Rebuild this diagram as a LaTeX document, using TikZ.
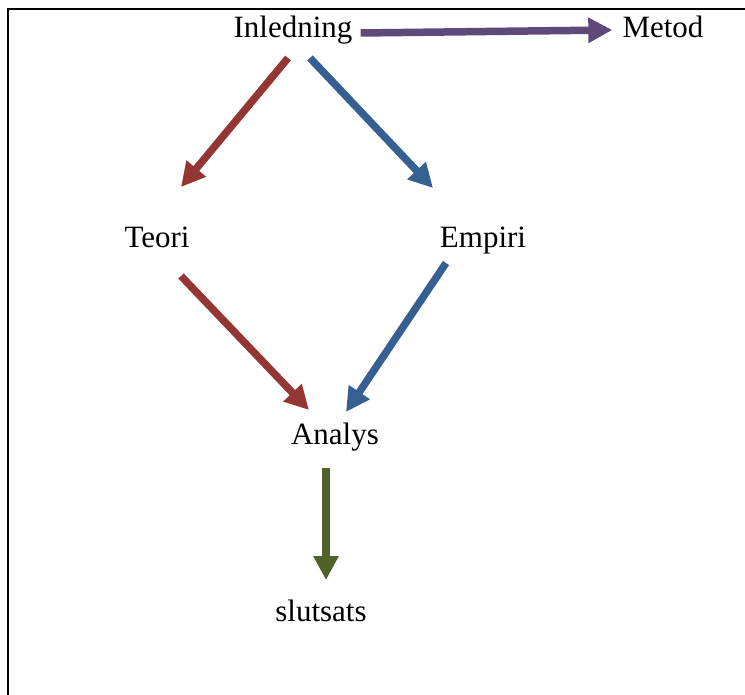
\documentclass[tikz,border=0pt]{standalone}
\usepackage{fontspec}
\setmainfont{Liberation Serif}
\usetikzlibrary{arrows.meta}
\definecolor{teorired}{HTML}{943634}
\definecolor{empiriblue}{HTML}{366092}
\definecolor{metodpurple}{HTML}{5F497A}
\definecolor{slutgreen}{HTML}{4F6228}

\begin{document}
\begin{tikzpicture}[x=1pt, y=-1pt,
  rubrik/.style={anchor=base, inner sep=0pt, font=\fontsize{31}{37}\selectfont},
  pil/.style={line width=7.5pt, -{Triangle[length=24pt, width=24pt]}}]
  \useasboundingbox (0, 0) rectangle (745, 695);
  \draw [line width=2pt] (8, 695) -- (8, 9) -- (745, 9);

  \node [rubrik] (inledning) at (293, 38) {Inledning};
  \node [rubrik] (metod) at (663, 38) {Metod};
  \node [rubrik] (teori) at (157, 248) {Teori};
  \node [rubrik] (empiri) at (483, 248) {Empiri};
  \node [rubrik] (analys) at (335, 444) {Analys};
  \node [rubrik] (slutsats) at (321, 621) {slutsats};

  \draw [pil, metodpurple] ([shift={(8, -5)}]inledning.base east) -- ([shift={(-10, -8)}]metod.base west);
  \draw [pil, teorired] ([shift={(-5, 20)}]inledning.base) -- ([shift={(24, -61)}]teori.base);
  \draw [pil, empiriblue] ([shift={(17, 20)}]inledning.base) -- ([shift={(-50, -60)}]empiri.base);
  \draw [pil, teorired] ([shift={(24, 28)}]teori.base) -- ([shift={(-26, -34)}]analys.base);
  \draw [pil, empiriblue] ([shift={(-37, 15)}]empiri.base) -- ([shift={(11, -32)}]analys.base);
  \draw [pil, slutgreen] ([shift={(-9, 24)}]analys.base) -- ([shift={(5, -41)}]slutsats.base);
\end{tikzpicture}
\end{document}
